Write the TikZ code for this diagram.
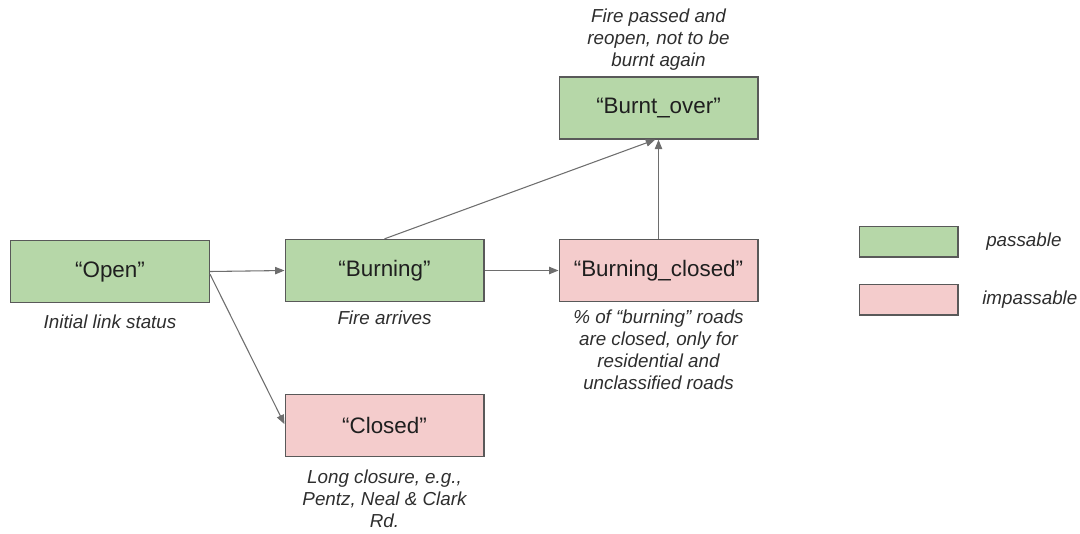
\documentclass[tikz,border=0pt]{standalone}
\usepackage{fontspec}
\setmainfont{Liberation Sans}
\usetikzlibrary{arrows.meta}

\definecolor{passgreen}{HTML}{B6D7A8}
\definecolor{closedpink}{HTML}{F4CCCC}
\definecolor{edgegray}{HTML}{595959}
\definecolor{arrowgray}{HTML}{6E6E6E}
\definecolor{notegray}{HTML}{2E2E2E}

\begin{document}
\begin{tikzpicture}[x=0.75pt,y=-0.75pt,
	status/.style={draw=edgegray, line width=1pt, minimum width=149pt, minimum height=46.5pt,
		inner sep=0pt, text=black!88, font=\fontsize{16.8}{20}\selectfont},
	ok/.style={status, fill=passgreen},
	shut/.style={status, fill=closedpink},
	key/.style={draw=edgegray, line width=1pt, minimum width=74pt, minimum height=23pt, inner sep=0pt},
	note/.style={align=center, text=notegray, inner sep=0pt, font=\fontsize{14.1}{16.5}\selectfont\itshape},
	link/.style={draw=arrowgray, line width=0.8pt, -{Triangle[length=7pt,width=5.5pt]}}]
	\useasboundingbox (0,0) rectangle (1080,533);

	% link states
	\node [ok] (open) at (110,271.5) {“Open”};
	\node [ok] (burning) at (384.5,270.5) {“Burning”};
	\node [shut] (burnclosed) at (658.5,270.5) {“Burning\_closed”};
	\node [ok] (burnt) at (658.5,108) {“Burnt\_over”};
	\node [shut] (closed) at (384.5,425.5) {“Closed”};

	% notes under / over each state
	\node [note] (opennote) at (110,322) {Initial link status};
	\node [note] (burningnote) at (384.5,318) {Fire arrives};
	\node [note] (burnclosednote) at (658.5,350) {\% of “burning” roads\\are closed, only for\\residential and\\unclassified roads};
	\node [note] (burntnote) at (658.5,40) {Fire passed and\\reopen, not to be\\burnt again};
	\node [note] (closednote) at (384.5,498.5) {Long closure, e.g.,\\Pentz, Neal \& Clark\\Rd.};

	% transitions
	\draw [link] (open.east) -- (burning.west);
	\draw [link] ([yshift=-2pt]open.east) -- ([yshift=1pt]closed.west);
	\draw [link] (burning.east) -- (burnclosed.west);
	\draw [link] (burning.north) -- ([xshift=-2.5pt]burnt.south);
	\draw [link] (burnclosed.north) -- (burnt.south);

	% legend
	\node [key, fill=passgreen] (keyok) at (908.5,241.5) {};
	\node [key, fill=closedpink] (keyshut) at (908.5,299.5) {};
	\node [note, anchor=west] (keyoktext) at (986,242) {passable};
	\node [note, anchor=west] (keyshuttext) at (982,300) {impassable};
\end{tikzpicture}
\end{document}
